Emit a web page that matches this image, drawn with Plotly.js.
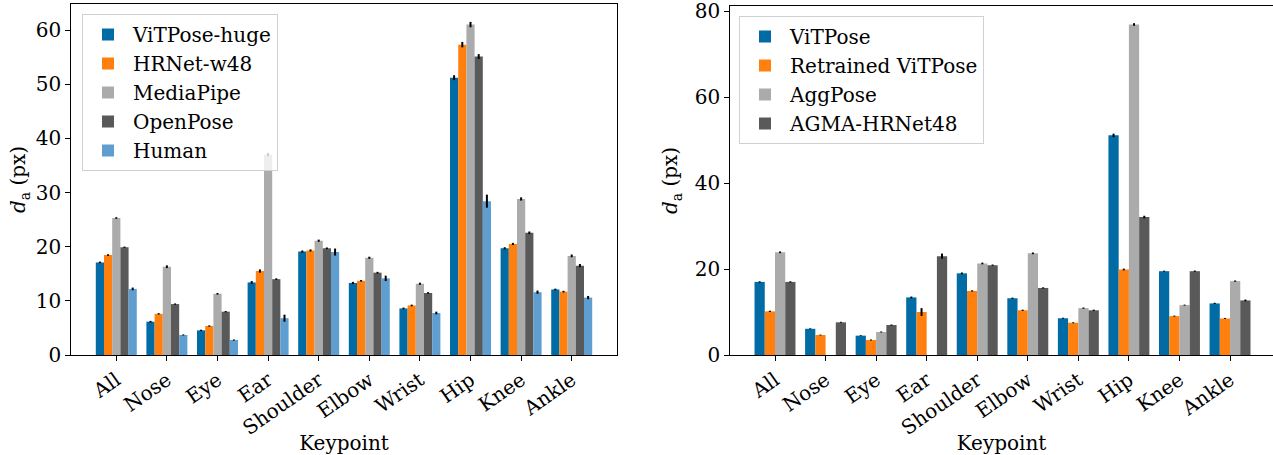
<!DOCTYPE html>
<html>
<head>
<meta charset="utf-8">
<script src="https://cdn.plot.ly/plotly-3.0.1.min.js"></script>
<style>html,body{margin:0;padding:0;background:#fff;}#chart{width:1273px;height:455px;}</style>
</head>
<body>
<div id="chart"></div>
<script>
// ---- Data ----
const keypoints = ["All","Nose","Eye","Ear","Shoulder","Elbow","Wrist","Hip","Knee","Ankle"];

// Left panel
const leftSeries = ["ViTPose-huge","HRNet-w48","MediaPipe","OpenPose","Human"];
const vitposeHuge = [17.1, 6.15, 4.55, 13.4, 19.1, 13.3, 8.6, 51.2, 19.7, 12.1];
const hrnetW48    = [18.45, 7.6, 5.35, 15.5, 19.3, 13.7, 9.15, 57.3, 20.5, 11.7];
const mediaPipe   = [25.3, 16.3, 11.3, 37.0, 21.1, 17.95, 13.15, 61.0, 28.8, 18.3];
const openPose    = [19.9, 9.4, 8.0, 14.0, 19.7, 15.2, 11.45, 55.1, 22.55, 16.5];
const human       = [12.2, 3.7, 2.77, 6.8, 19.0, 14.15, 7.75, 28.4, 11.6, 10.6];
const vitposeHugeErr = [0.15, 0.15, 0.12, 0.25, 0.2, 0.2, 0.15, 0.45, 0.2, 0.15];
const hrnetW48Err    = [0.15, 0.12, 0.12, 0.3, 0.2, 0.15, 0.15, 0.5, 0.2, 0.15];
const mediaPipeErr   = [0.15, 0.25, 0.15, 0.3, 0.2, 0.2, 0.2, 0.5, 0.3, 0.25];
const openPoseErr    = [0.12, 0.12, 0.12, 0.15, 0.15, 0.15, 0.15, 0.45, 0.25, 0.3];
const humanErr       = [0.25, 0.1, 0.1, 0.65, 0.65, 0.5, 0.25, 1.2, 0.3, 0.3];

// Right panel
const rightSeries = ["ViTPose","Retrained ViTPose","AggPose","AGMA-HRNet48"];
const vitpose      = [17.0, 6.1, 4.5, 13.4, 19.0, 13.2, 8.55, 51.1, 19.5, 12.0];
const retrained    = [10.15, 4.65, 3.5, 10.0, 14.9, 10.4, 7.5, 19.9, 9.05, 8.5];
const aggPose      = [23.9, null, 5.35, null, 21.3, 23.65, 10.9, 76.9, 11.6, 17.2];
const agmaHRNet48  = [17.0, 7.6, 6.98, 23.0, 20.9, 15.6, 10.4, 32.1, 19.5, 12.7];
const vitposeErr   = [0.15, 0.1, 0.1, 0.2, 0.2, 0.15, 0.12, 0.4, 0.12, 0.15];
const retrainedErr = [0.15, 0.1, 0.1, 0.9, 0.15, 0.15, 0.12, 0.2, 0.12, 0.12];
const aggPoseErr   = [0.2, null, 0.12, null, 0.2, 0.2, 0.15, 0.3, 0.12, 0.15];
const agmaErr      = [0.15, 0.12, 0.12, 0.6, 0.15, 0.15, 0.15, 0.3, 0.15, 0.2];

const colors = ["#006BA4","#FF800E","#ABABAB","#595959","#5F9ED1"];
const FONT = "DejaVu Serif";
const FS = 20;

function bar(name, y, err, color, xa, ya, legend) {
  return {
    type: "bar", name: name, x: keypoints, y: y,
    xaxis: xa, yaxis: ya, legend: legend,
    marker: {color: color, line: {width: 0}},
    error_y: {type: "data", array: err, visible: true, color: "#000", thickness: 2, width: 0}
  };
}

const traces = [
  bar(leftSeries[0], vitposeHuge, vitposeHugeErr, colors[0], "x", "y", "legend"),
  bar(leftSeries[1], hrnetW48, hrnetW48Err, colors[1], "x", "y", "legend"),
  bar(leftSeries[2], mediaPipe, mediaPipeErr, colors[2], "x", "y", "legend"),
  bar(leftSeries[3], openPose, openPoseErr, colors[3], "x", "y", "legend"),
  bar(leftSeries[4], human, humanErr, colors[4], "x", "y", "legend"),
  bar(rightSeries[0], vitpose, vitposeErr, colors[0], "x2", "y2", "legend2"),
  bar(rightSeries[1], retrained, retrainedErr, colors[1], "x2", "y2", "legend2"),
  bar(rightSeries[2], aggPose, aggPoseErr, colors[2], "x2", "y2", "legend2"),
  bar(rightSeries[3], agmaHRNet48, agmaErr, colors[3], "x2", "y2", "legend2")
];

const W = 1273, H = 455;
const axisCommon = {
  showline: true, linecolor: "#000", linewidth: 1.2,
  ticks: "outside", ticklen: 4.5, tickwidth: 1, tickcolor: "#000",
  showgrid: false, zeroline: false, ticklabeloverflow: "allow",
  tickfont: {family: FONT, size: FS, color: "#000"}
};

const layout = {
  width: W, height: H,
  margin: {l: 0, r: 0, t: 0, b: 0},
  paper_bgcolor: "#fff", plot_bgcolor: "#fff",
  barmode: "group", bargap: 0.19, bargroupgap: 0,
  font: {family: FONT, size: FS, color: "#000"},
  xaxis: Object.assign({}, axisCommon, {
    domain: [71/W, 617/W], anchor: "y", mirror: true,
    range: [-0.895, 9.895], tickangle: -35,
    title: {text: "Keypoint", font: {family: FONT, size: FS}, standoff: 6}
  }),
  yaxis: Object.assign({}, axisCommon, {
    domain: [1 - 355/H, 1 - 4/H], anchor: "x", mirror: true,
    range: [0, 64.8], tickvals: [0,10,20,30,40,50,60],
    title: {text: "<i>d</i><sub>a</sub> (px)", font: {family: FONT, size: FS}, standoff: 4}
  }),
  xaxis2: Object.assign({}, axisCommon, {
    domain: [730/W, 1], anchor: "y2", mirror: true,
    range: [-0.89, 9.85], tickangle: -35,
    title: {text: "Keypoint", font: {family: FONT, size: FS}, standoff: 6}
  }),
  yaxis2: Object.assign({}, axisCommon, {
    domain: [1 - 355/H, 1 - 6/H], anchor: "x2", mirror: false,
    range: [0, 81.2], tickvals: [0,20,40,60,80],
    title: {text: "<i>d</i><sub>a</sub> (px)", font: {family: FONT, size: FS}, standoff: 11}
  }),
  legend: {
    x: 82/W, y: 1 - 14/H, xanchor: "left", yanchor: "top",
    bgcolor: "rgba(255,255,255,0.8)", bordercolor: "#d0d0d0", borderwidth: 1,
    font: {family: FONT, size: FS, color: "#000"}, itemwidth: 40, tracegroupgap: 0
  },
  legend2: {
    x: 739/W, y: 1 - 16/H, xanchor: "left", yanchor: "top",
    bgcolor: "rgba(255,255,255,0.8)", bordercolor: "#d0d0d0", borderwidth: 1,
    font: {family: FONT, size: FS, color: "#000"}, itemwidth: 40, tracegroupgap: 0
  },
  showlegend: true
};

Plotly.newPlot("chart", traces, layout, {displayModeBar: false, staticPlot: true});
</script>
</body>
</html>
